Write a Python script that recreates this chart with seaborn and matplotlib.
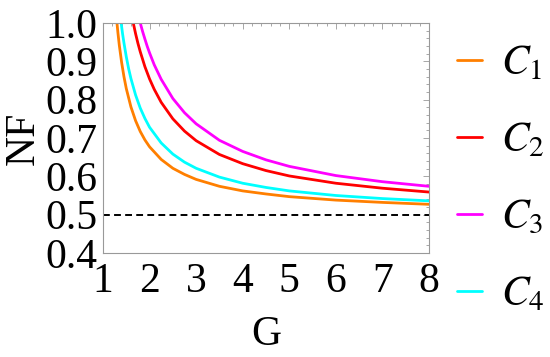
import matplotlib
matplotlib.use("Agg")
import matplotlib.pyplot as plt
import seaborn as sns
import pandas as pd
from matplotlib.ticker import MultipleLocator
from matplotlib.lines import Line2D

# values
g_c1 = [1.30, 1.32, 1.35, 1.40, 1.45, 1.50, 1.60, 1.70, 1.80, 1.90, 2.00, 2.25, 2.50, 2.75,
        3.00, 3.50, 4.00, 4.50, 5.00, 6.00, 7.00, 8.00]
nf_c1 = [1.000, 0.975, 0.942, 0.897, 0.860, 0.829, 0.781, 0.745, 0.717, 0.695, 0.677, 0.644,
         0.621, 0.605, 0.592, 0.574, 0.562, 0.554, 0.547, 0.538, 0.532, 0.527]

g_c2 = [1.65, 1.70, 1.75, 1.80, 1.90, 2.00, 2.10, 2.25, 2.50, 2.75, 3.00, 3.50, 4.00, 4.50,
        5.00, 6.00, 7.00, 8.00]
nf_c2 = [1.000, 0.972, 0.947, 0.925, 0.886, 0.854, 0.827, 0.793, 0.750, 0.718, 0.693, 0.657,
         0.633, 0.615, 0.601, 0.582, 0.569, 0.559]

g_c3 = [1.80, 1.85, 1.90, 1.95, 2.00, 2.10, 2.25, 2.50, 2.75, 3.00, 3.50, 4.00, 4.50, 5.00,
        6.00, 7.00, 8.00]
nf_c3 = [1.000, 0.978, 0.958, 0.939, 0.922, 0.891, 0.853, 0.803, 0.766, 0.737, 0.694, 0.665,
         0.643, 0.626, 0.602, 0.586, 0.574]

g_c4 = [1.39, 1.42, 1.45, 1.50, 1.55, 1.60, 1.70, 1.80, 1.90, 2.00, 2.25, 2.50, 2.75, 3.00,
        3.50, 4.00, 4.50, 5.00, 6.00, 7.00, 8.00]
nf_c4 = [1.000, 0.972, 0.948, 0.912, 0.881, 0.855, 0.812, 0.778, 0.751, 0.728, 0.687, 0.658,
         0.637, 0.621, 0.598, 0.582, 0.571, 0.562, 0.550, 0.542, 0.536]

curve_names = ["C1", "C2", "C3", "C4"]
legend_labels = ["$C_1$", "$C_2$", "$C_3$", "$C_4$"]
curve_colors = ["#FF7F00", "#FF0000", "#FF00FF", "#00FFFF"]
limit_nf = 0.5

frames = []
for name, g, nf in zip(curve_names, [g_c1, g_c2, g_c3, g_c4], [nf_c1, nf_c2, nf_c3, nf_c4]):
    frames.append(pd.DataFrame({"G": g, "NF": nf, "curve": name}))
df = pd.concat(frames, ignore_index=True)

sns.set_style("white")
plt.rcParams["font.family"] = ["Liberation Serif", "DejaVu Serif"]
plt.rcParams["mathtext.fontset"] = "stix"
plt.rcParams["text.color"] = "black"
plt.rcParams["axes.labelcolor"] = "black"
plt.rcParams["xtick.labelcolor"] = "black"
plt.rcParams["ytick.labelcolor"] = "black"

fs = 30

fig = plt.figure(figsize=(5.5, 3.57), dpi=100)
ax = fig.add_axes([103 / 550, 1 - 253 / 357, 326 / 550, 230 / 357])

palette = dict(zip(curve_names, curve_colors))
sns.lineplot(data=df, x="G", y="NF", hue="curve", palette=palette,
             linewidth=2.0, legend=False, ax=ax, sort=False, estimator=None)
for line in ax.get_lines():
    line.set_solid_joinstyle("round")
ax.axhline(limit_nf, color="black", linestyle=(0, (3.5, 2.2)), linewidth=1.4)

ax.set_xlim(1, 8)
ax.set_ylim(0.4, 1.0)
ax.xaxis.set_major_locator(MultipleLocator(1))
ax.xaxis.set_minor_locator(MultipleLocator(0.2))
ax.yaxis.set_minor_locator(MultipleLocator(0.02))
ax.set_yticks([0.4, 0.5, 0.6, 0.7, 0.8, 0.9, 1.0])
ax.set_yticklabels(["0.4", "0.5", "0.6", "0.7", "0.8", "0.9", "1.0"])

for s in ax.spines.values():
    s.set_color("#999999")
    s.set_linewidth(0.8)
ax.tick_params(which="both", direction="in", top=True, right=True,
               color="#999999", width=0.6, labelsize=fs, labelcolor="black")
ax.tick_params(which="major", length=4.5)
ax.tick_params(which="minor", length=2.5)
ax.tick_params(axis="x", pad=7)
ax.tick_params(axis="y", pad=4)

ax.set_xlabel("G", fontsize=fs, labelpad=10, color="black")
ax.set_ylabel("NF", fontsize=fs, labelpad=2, color="black")

handles = [Line2D([0], [0], color=c, linewidth=2.0) for c in curve_colors]
leg = ax.legend(handles, legend_labels, loc="upper left", bbox_to_anchor=(457 / 550, 1 - 45 / 357),
                bbox_transform=fig.transFigure, frameon=False, fontsize=fs,
                handlelength=0.6, handletextpad=0.45, labelspacing=0.92,
                borderaxespad=0, borderpad=0)
for t in leg.get_texts():
    t.set_color("black")

fig.savefig("out.png", dpi=100)
